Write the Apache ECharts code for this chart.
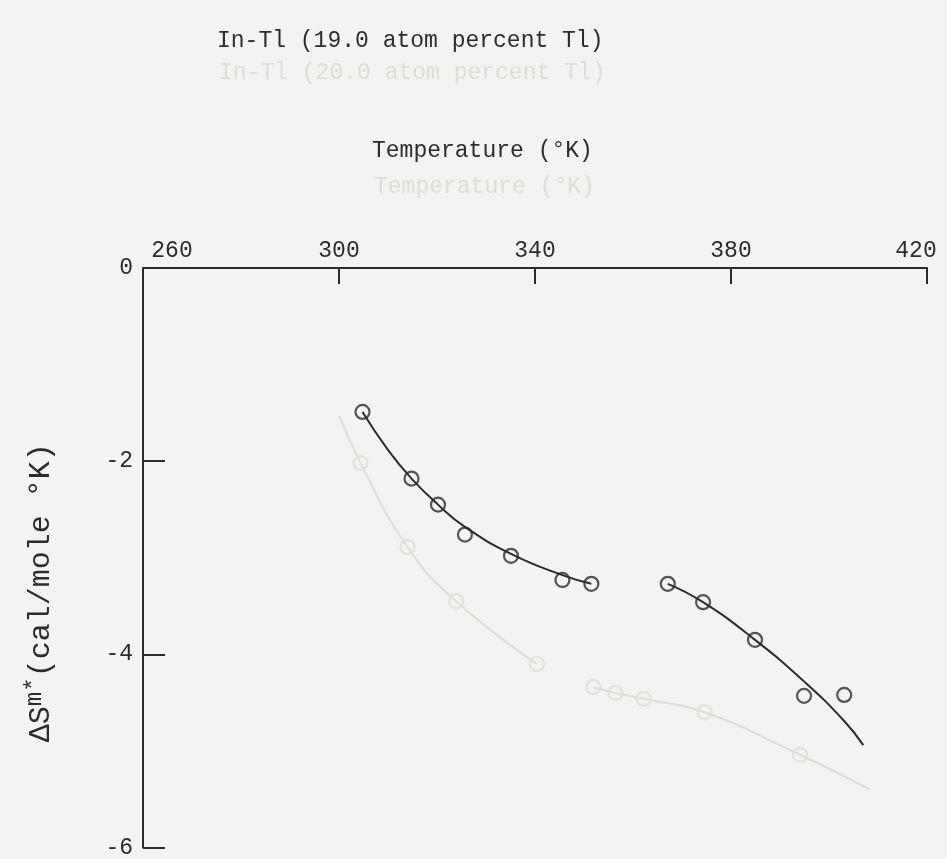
<!DOCTYPE html>
<html>
<head>
<meta charset="utf-8">
<script src="https://cdn.jsdelivr.net/npm/echarts@6/dist/echarts.min.js"></script>
<style>
  html, body { margin: 0; padding: 0; background: #f3f3f1; }
  #chart { width: 947px; height: 859px; }
</style>
</head>
<body>
<div id="chart"></div>
<script>
// Axis ticks
const tempTicks = [260, 300, 340, 380, 420];
const entropyTicks = [0, -2, -4, -6];

// Measured points, 19.0 atom percent Tl: lower-temperature branch
const lowT = [304.8, 314.8, 320.2, 325.7, 335.1, 345.6, 351.5];
const lowS = [-1.49, -2.18, -2.45, -2.76, -2.98, -3.23, -3.27];
// Measured points: higher-temperature branch
const highT = [367.1, 374.3, 384.9, 394.9, 403.1];
const highS = [-3.27, -3.46, -3.85, -4.43, -4.42];

// Hand-drawn smooth curves through each branch
const lowFitT = [304.8, 310.1, 314.8, 320.2, 325.7, 335.1, 345.6, 351.5];
const lowFitS = [-1.49, -1.89, -2.18, -2.45, -2.68, -2.96, -3.18, -3.27];
const highFitT = [367.1, 374.3, 384.9, 394.9, 403.1, 407.0];
const highFitS = [-3.27, -3.46, -3.85, -4.28, -4.69, -4.94];

// Faint show-through of the 20.0 atom percent plot on the reverse of the sheet
const ghostPtT = [304.4, 314.0, 323.9, 340.4, 351.9, 356.4, 362.2, 374.6, 394.1];
const ghostPtS = [-2.02, -2.89, -3.45, -4.10, -4.34, -4.40, -4.46, -4.60, -5.04];
const ghostFit1T = [300.1, 304.4, 314.0, 323.9, 340.4];
const ghostFit1S = [-1.53, -2.02, -2.89, -3.45, -4.10];
const ghostFit2T = [351.9, 356.4, 362.2, 374.6, 394.1, 408.4];
const ghostFit2S = [-4.34, -4.40, -4.46, -4.60, -5.04, -5.40];

const pair = (xs, ys) => xs.map((x, i) => [x, ys[i]]);

const FONT = '"Liberation Mono", "DejaVu Sans Mono", monospace';
const INK = '#2c2c2c';
const GHOST = '#deded9';

const chart = echarts.init(document.getElementById('chart'), null, { renderer: 'canvas' });

const markerSeries = (name, data, color) => ({
  name, type: 'scatter', data,
  symbol: 'circle', symbolSize: 14,
  itemStyle: { color: 'rgba(0,0,0,0)', borderColor: color, borderWidth: 2.2 },
  z: 5
});
const curveSeries = (name, data, color, width) => ({
  name, type: 'line', data, smooth: 0.5,
  showSymbol: false, lineStyle: { color, width },
  z: 4
});

chart.setOption({
  backgroundColor: '#f3f3f1',
  animation: false,
  title: [
    { text: 'In-Tl (20.0 atom percent Tl)', left: 214, top: 56,
      textStyle: { fontFamily: FONT, fontSize: 23, fontWeight: 'normal', color: GHOST } },
    { text: 'Temperature (°K)', left: 369, top: 170,
      textStyle: { fontFamily: FONT, fontSize: 23, fontWeight: 'normal', color: GHOST } },
    { text: 'In-Tl (19.0 atom percent Tl)', left: 212, top: 24,
      textStyle: { fontFamily: FONT, fontSize: 23, fontWeight: 'normal', color: INK } },
    { text: 'Temperature (°K)', left: 367, top: 134,
      textStyle: { fontFamily: FONT, fontSize: 23, fontWeight: 'normal', color: INK } }
  ],
  grid: { left: 143, right: 20, top: 268, bottom: 7 },
  xAxis: {
    type: 'value', position: 'top',
    min: tempTicks[0], max: tempTicks[tempTicks.length - 1], interval: 40,
    axisLine: { show: true, lineStyle: { color: INK, width: 2 } },
    axisTick: { show: true, inside: true, length: 16, lineStyle: { color: INK, width: 2 } },
    splitLine: { show: false },
    axisLabel: {
      margin: 6,
      fontFamily: FONT, fontSize: 23, color: INK,
      formatter: v => v === tempTicks[0] ? '{first|' + v + '}'
        : v === tempTicks[tempTicks.length - 1] ? '{last|' + v + '}' : String(v),
      rich: {
        first: { fontFamily: FONT, fontSize: 23, color: INK, padding: [0, 0, 0, 58] },
        last: { fontFamily: FONT, fontSize: 23, color: INK, padding: [0, 22, 0, 0] }
      }
    }
  },
  yAxis: {
    type: 'value',
    min: entropyTicks[entropyTicks.length - 1], max: entropyTicks[0], interval: 2,
    axisLine: { show: true, lineStyle: { color: INK, width: 2 } },
    axisTick: { show: true, inside: true, length: 22, lineStyle: { color: INK, width: 2 } },
    splitLine: { show: false },
    axisLabel: { margin: 10, fontFamily: FONT, fontSize: 23, color: INK },
    name: '{n|ΔS}{sup|m*}{n|(cal/mole °K)}',
    nameLocation: 'middle', nameRotate: 90, nameGap: 84,
    nameTextStyle: {
      padding: [0, 70, 0, 0],
      rich: {
        n: { fontFamily: FONT, fontSize: 30, color: INK },
        sup: { fontFamily: FONT, fontSize: 24, color: INK, verticalAlign: 'bottom', padding: [0, 0, 12, 0] }
      }
    }
  },
  series: [
    curveSeries('ghost fit 1', pair(ghostFit1T, ghostFit1S), GHOST, 2),
    curveSeries('ghost fit 2', pair(ghostFit2T, ghostFit2S), GHOST, 2),
    markerSeries('ghost points', pair(ghostPtT, ghostPtS), GHOST),
    curveSeries('low-T fit', pair(lowFitT, lowFitS), INK, 2),
    curveSeries('high-T fit', pair(highFitT, highFitS), INK, 2),
    markerSeries('low-T points', pair(lowT, lowS), INK),
    markerSeries('high-T points', pair(highT, highS), INK)
  ]
});
</script>
</body>
</html>
